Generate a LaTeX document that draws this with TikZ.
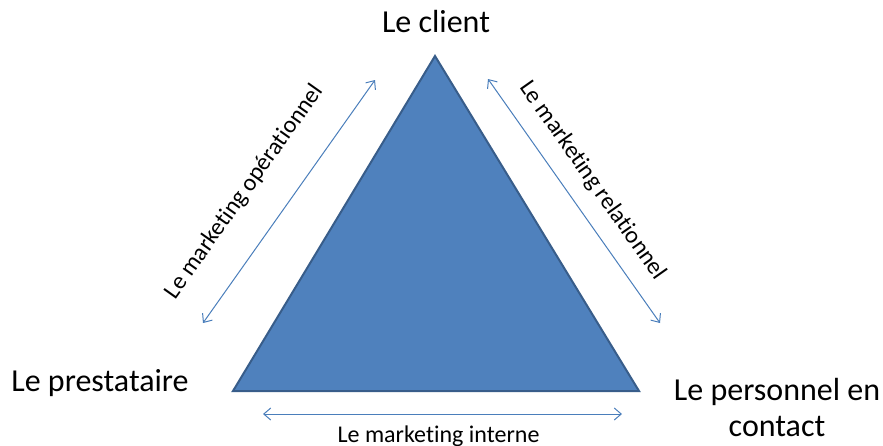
\documentclass[tikz,border=0pt]{standalone}
\usepackage{fontspec}
\setmainfont{Carlito}[Ligatures=NoCommon]
\usetikzlibrary{arrows.meta}
\definecolor{triblue}{HTML}{4F81BD}
\definecolor{triedge}{HTML}{385D8A}
\definecolor{axisblue}{HTML}{4A7EBB}

\begin{document}
\begin{tikzpicture}[x=1pt,y=-1pt,>={Straight Barb[length=7pt,width=12pt]},
  bigtext/.style={font=\fontsize{32}{36}\selectfont,inner sep=0pt},
  smalltext/.style={font=\fontsize{24}{28}\selectfont,inner sep=0pt,text=black},
  axis/.style={<->,axisblue,line width=1pt}]
\useasboundingbox (0,0) rectangle (883,445);
% corners of the triangle
\coordinate (top) at (435,56);
\coordinate (bl) at (233,391);
\coordinate (br) at (639,391);
\draw[triedge,fill=triblue,line width=2pt,line join=miter] (top) -- (br) -- (bl) -- cycle;
% the three actors
\node[bigtext] (client) at (436,22) {Le client};
\node[bigtext] (prestataire) at (100,383) {Le prestataire};
\node[bigtext,align=center] (personnel) at (777,407) {Le personnel en\\contact};
% arrow ends
\coordinate (op1) at (203,323);
\coordinate (op2) at (375,80);
\coordinate (re1) at (488,79);
\coordinate (re2) at (660,323);
\coordinate (in1) at (263,414);
\coordinate (in2) at (622,414);
\draw[axis] (op1) -- (op2) node[smalltext,pos=.44,sloped,above=31pt] (oplabel) {Le marketing opérationnel};
\draw[axis] (re1) -- (re2) node[smalltext,pos=.48,sloped,above=16pt] (relabel) {Le marketing relationnel};
\draw[axis] (in1) -- (in2) node[smalltext,midway,below=11pt,xshift=-4pt] (inlabel) {Le marketing interne};
\end{tikzpicture}
\end{document}
